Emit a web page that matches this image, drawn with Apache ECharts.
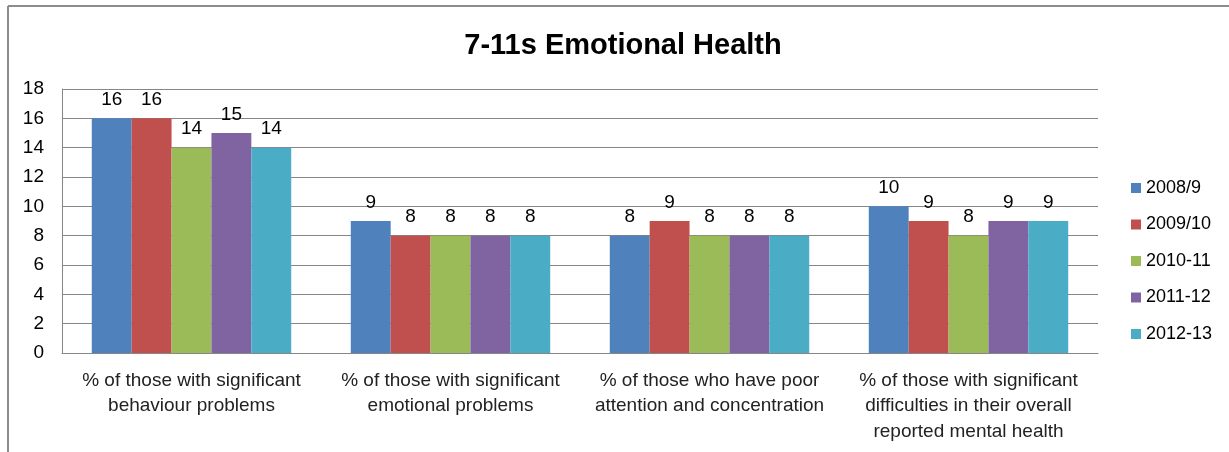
<!DOCTYPE html>
<html>
<head>
<meta charset="utf-8">
<script src="https://cdn.jsdelivr.net/npm/echarts@6/dist/echarts.min.js"></script>
<style>
html,body{margin:0;padding:0;background:#fff;}
#c{width:1229px;height:452px;}
</style>
</head>
<body>
<div id="c"></div>
<script>
const categories = [
  "% of those with significant\nbehaviour problems",
  "% of those with significant\nemotional problems",
  "% of those who have poor\nattention and concentration",
  "% of those with significant\ndifficulties in their overall\nreported mental health"
];
const seriesNames = ["2008/9", "2009/10", "2010-11", "2011-12", "2012-13"];
const s2008 = [16, 9, 8, 10];
const s2009 = [16, 8, 9, 9];
const s2010 = [14, 8, 8, 8];
const s2011 = [15, 8, 8, 9];
const s2012 = [14, 8, 8, 9];
const seriesValues = [s2008, s2009, s2010, s2011, s2012];
const colors = ["#4f81bd", "#c0504d", "#9bbb59", "#8064a2", "#4bacc6"];
const FONT = "'Liberation Sans', 'DejaVu Sans', sans-serif";

const chart = echarts.init(document.getElementById('c'), null, {renderer: 'canvas'});
chart.setOption({
  backgroundColor: '#fff',
  animation: false,
  color: colors,
  title: {
    text: '7-11s Emotional Health',
    left: 618, top: 26, textAlign: 'center',
    textStyle: {fontFamily: FONT, fontSize: 29, fontWeight: 'bold', color: '#000'}
  },
  graphic: [
    {type: 'line', shape: {x1: 8, y1: 6, x2: 1229, y2: 6}, style: {stroke: '#8c8c8c', lineWidth: 2}},
    {type: 'line', shape: {x1: 8, y1: 6, x2: 8, y2: 452}, style: {stroke: '#8c8c8c', lineWidth: 2}}
  ],
  legend: {
    orient: 'vertical',
    left: 1126, top: 174,
    itemWidth: 10, itemHeight: 10, itemGap: 18.5,
    icon: 'rect',
    textStyle: {fontFamily: FONT, fontSize: 18, color: '#000'},
    data: seriesNames
  },
  grid: {left: 62, right: 131, top: 89, bottom: 99, containLabel: false},
  xAxis: {
    type: 'category',
    data: categories,
    axisLine: {lineStyle: {color: '#868686'}},
    axisTick: {show: false},
    axisLabel: {fontFamily: FONT, fontSize: 19, color: '#222', lineHeight: 25.5, margin: 15, interval: 0}
  },
  yAxis: {
    type: 'value', min: 0, max: 18, interval: 2,
    axisLine: {show: true, lineStyle: {color: '#868686'}},
    axisTick: {show: false},
    splitLine: {lineStyle: {color: '#868686'}},
    axisLabel: {fontFamily: FONT, fontSize: 19, color: '#000', margin: 18}
  },
  series: seriesNames.map((n, i) => ({
    name: n, type: 'bar', data: seriesValues[i],
    barGap: '0%', barCategoryGap: '23%',
    label: {show: true, position: 'top', distance: 9, fontFamily: FONT, fontSize: 19, color: '#000'}
  }))
});
</script>
</body>
</html>
